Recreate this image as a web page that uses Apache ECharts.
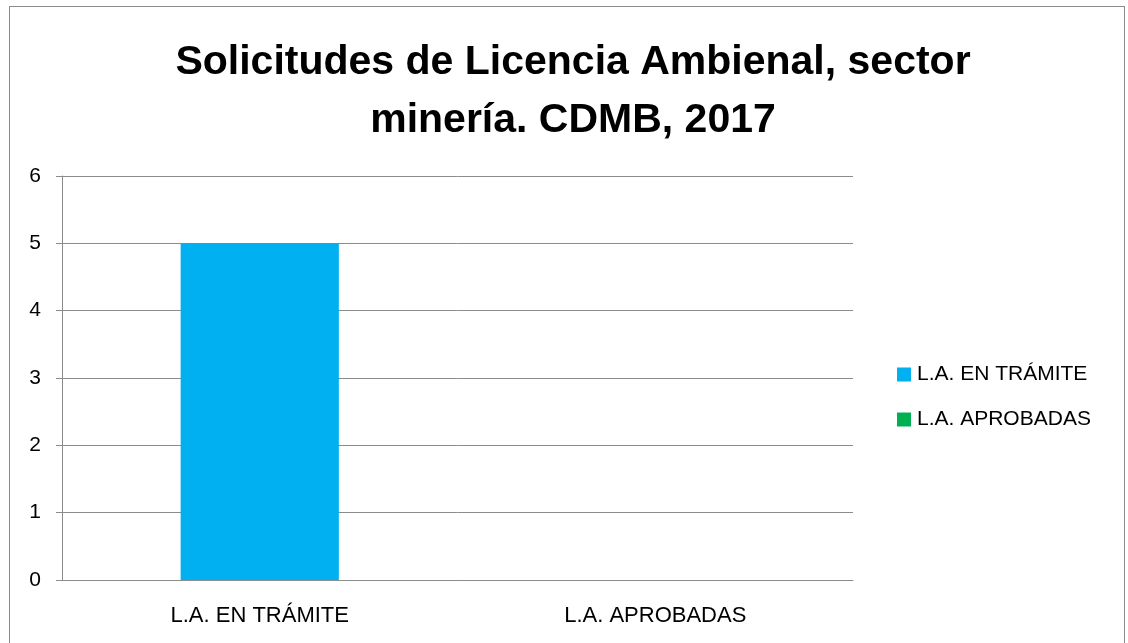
<!DOCTYPE html>
<html>
<head>
<meta charset="utf-8">
<script src="https://cdn.jsdelivr.net/npm/echarts@6/dist/echarts.min.js"></script>
<style>
  html, body { margin: 0; padding: 0; background: #fff; }
  #chart { width: 1128px; height: 643px; position: relative; }
  .frame { position: absolute; left: 9px; top: 6px; width: 1116px; height: 700px; border: 1px solid #8c8c8c; box-sizing: border-box; pointer-events: none; }
</style>
</head>
<body>
<div id="chart"></div>
<div class="frame"></div>
<script>
const categories = ['L.A. EN TRÁMITE', 'L.A. APROBADAS'];
const enTramite = [5, '-'];
const aprobadas = ['-', 0];
const yTicks = [0, 1, 2, 3, 4, 5, 6];

const font = '"Liberation Sans", sans-serif';
const chart = echarts.init(document.getElementById('chart'));

chart.setOption({
  animation: false,
  textStyle: { fontFamily: font },
  title: {
    text: 'Solicitudes de Licencia Ambienal, sector\nminería. CDMB, 2017',
    left: 568,
    textAlign: 'center',
    top: 29,
    textStyle: { fontFamily: font, fontSize: 41, fontWeight: 'bold', color: '#000', lineHeight: 58 }
  },
  legend: {
    orient: 'vertical',
    left: 897,
    top: 364,
    padding: 0,
    itemWidth: 14,
    itemHeight: 14,
    itemGap: 24,
    icon: 'rect',
    textStyle: { fontFamily: font, fontSize: 21, color: '#000', padding: [0, 0, 0, 1] },
    data: ['L.A. EN TRÁMITE', 'L.A. APROBADAS']
  },
  grid: { left: 62, right: 275, top: 176, bottom: 63, containLabel: false },
  xAxis: {
    type: 'category',
    data: categories,
    axisLine: { lineStyle: { color: '#8c8c8c' } },
    axisTick: { length: 8, lineStyle: { color: '#8c8c8c' } },
    axisLabel: { color: '#000', fontSize: 22, margin: 25, fontFamily: font }
  },
  yAxis: {
    type: 'value',
    min: yTicks[0],
    max: yTicks[yTicks.length - 1],
    interval: 1,
    axisLine: { show: true, lineStyle: { color: '#8c8c8c' } },
    axisTick: { show: true, length: 6, lineStyle: { color: '#8c8c8c' } },
    axisLabel: { color: '#000', fontSize: 21, margin: 21, fontFamily: font },
    splitLine: { lineStyle: { color: '#8c8c8c' } }
  },
  series: [
    {
      name: 'L.A. EN TRÁMITE',
      type: 'bar',
      stack: 'total',
      barWidth: '40%',
      itemStyle: { color: '#00b0f0' },
      data: enTramite
    },
    {
      name: 'L.A. APROBADAS',
      type: 'bar',
      stack: 'total',
      barWidth: '40%',
      itemStyle: { color: '#00b050' },
      data: aprobadas
    }
  ]
});
</script>
</body>
</html>
